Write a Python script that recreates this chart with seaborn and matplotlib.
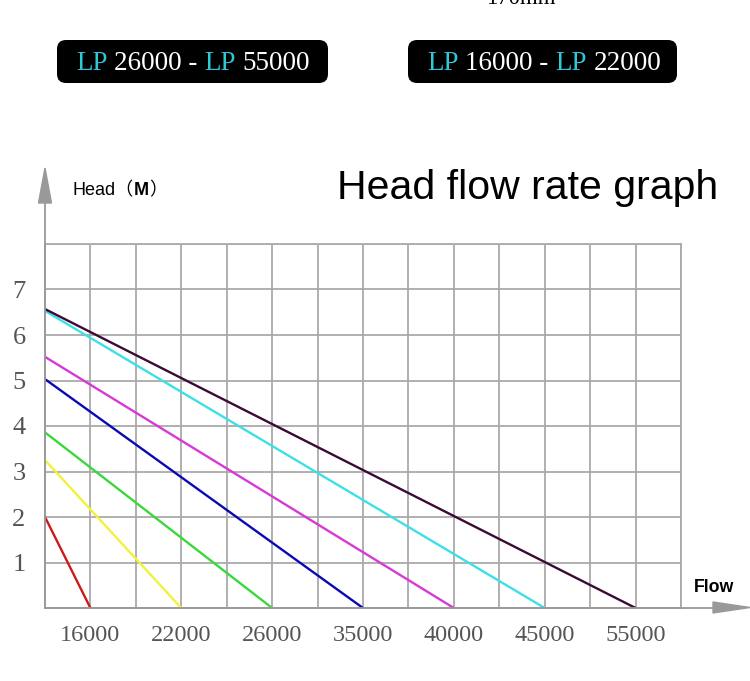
import matplotlib
matplotlib.use("Agg")
import matplotlib.pyplot as plt
import seaborn as sns
import pandas as pd
from matplotlib.patches import FancyBboxPatch, Polygon
from matplotlib.lines import Line2D
from matplotlib.text import Annotation

# ---------------- data ----------------
flow_labels = ['16000', '22000', '26000', '35000', '40000', '45000', '55000']
flow_cols = [1, 3, 5, 7, 9, 11, 13]          # grid column of each flow label
max_heads = [2.0, 3.25, 3.86, 5.03, 5.52, 6.53, 6.57]
line_colors = ['#d01a1a', '#f2f23a', '#3ad83a', '#0a0ab4', '#d838d8', '#3ce0e6', '#3b0a35']
head_ticks = [1, 2, 3, 4, 5, 6, 7]
n_cols = 14
n_rows = 8
header_left = ['LP', '26000 -', 'LP', '55000']
header_right = ['LP', '16000 -', 'LP', '22000']

rows = []
for lab, col, h in zip(flow_labels, flow_cols, max_heads):
    rows.append({'model': lab, 'col': 0, 'head': h})
    rows.append({'model': lab, 'col': col, 'head': 0.0})
df = pd.DataFrame(rows)

# ---------------- figure ----------------
sns.set_theme(style='white')
plt.rcParams['font.family'] = ['Liberation Sans', 'Noto Sans CJK SC', 'DejaVu Sans']

W, H = 750, 681
fig = plt.figure(figsize=(W / 100, H / 100), dpi=100)
fig.patch.set_facecolor('white')

def fx(px):
    return px / W

def fy(py):
    return 1 - py / H

ax = fig.add_axes([fx(45), fy(608), fx(681) - fx(45), fy(244) - fy(608)])
ax.set_facecolor('white')

sns.lineplot(data=df, x='col', y='head', hue='model', hue_order=flow_labels,
             palette=line_colors, legend=False, sort=False, estimator=None,
             linewidth=1.7, ax=ax, zorder=3)

ax.set_xlim(0, n_cols)
ax.set_ylim(0, n_rows)
ax.set_xticks(range(n_cols + 1))
xlabels = [''] * (n_cols + 1)
for lab, col in zip(flow_labels, flow_cols):
    xlabels[col] = lab
ax.set_xticklabels(xlabels)
ax.set_yticks(range(n_rows + 1))
ylabels = [''] * (n_rows + 1)
for t in head_ticks:
    ylabels[t] = str(t)
ax.set_yticklabels(ylabels)
ax.set_xlabel('')
ax.set_ylabel('')
ax.grid(True, color='#aaaaaa', linewidth=1.3)
for s in ax.spines.values():
    s.set_color('#aaaaaa')
    s.set_linewidth(1.3)
ax.tick_params(axis='both', length=0)
ax.tick_params(axis='x', pad=12)
ax.tick_params(axis='y', pad=14)
for lbl in ax.get_xticklabels():
    lbl.set_family('Liberation Serif')
    lbl.set_fontsize(17.5)
    lbl.set_color('#555555')
for lbl in ax.get_yticklabels():
    lbl.set_family('Liberation Serif')
    lbl.set_fontsize(19)
    lbl.set_color('#555555')

# axis arrows
arrow_c = '#999999'
fig.add_artist(Line2D([fx(45), fx(45)], [fy(608), fy(200)], color=arrow_c, lw=1.3))
fig.add_artist(Polygon([[fx(45), fy(168)], [fx(38.5), fy(203)], [fx(51.5), fy(203)]],
                       closed=True, color=arrow_c, transform=fig.transFigure))
fig.add_artist(Line2D([fx(45), fx(715)], [fy(608), fy(608)], color=arrow_c, lw=1.3))
fig.add_artist(Polygon([[fx(750), fy(607.5)], [fx(713), fy(602)], [fx(713), fy(613)]],
                       closed=True, color=arrow_c, transform=fig.transFigure))

def chain(prev, text, dx_pt=0.0, **kw):
    a = Annotation(text, xy=(1, 0), xycoords=prev, xytext=(dx_pt, 0),
                   textcoords='offset points', va='bottom', ha='left',
                   annotation_clip=False, **kw)
    a.set_zorder(5)
    fig.add_artist(a)
    return a

# labels
t_head = fig.text(fx(73), fy(195), 'Head（', fontsize=13, color='black',
                  va='baseline', ha='left')
t_m = chain(t_head, 'M', fontsize=13, fontweight='bold', color='black')
chain(t_m, '）', fontsize=13, color='black')
fig.text(fx(694), fy(592), 'Flow', fontsize=12.8, fontweight='bold', color='black',
         va='baseline', ha='left')
fig.text(fx(337), fy(199), 'Head flow rate graph', fontsize=29.5, color='black',
         va='baseline', ha='left')

# partially visible top text
fig.text(fx(521), fy(4), '170mm', fontsize=16.5, family='Liberation Serif',
         color='black', va='baseline', ha='center')

# header boxes
def header(x0, x1, y0, y1, text_x, parts):
    box = FancyBboxPatch((fx(x0), fy(y1)), fx(x1) - fx(x0), fy(y0) - fy(y1),
                         boxstyle='round,pad=0,rounding_size=0.012',
                         transform=fig.transFigure, facecolor='black',
                         edgecolor='none', mutation_aspect=W / H, zorder=1)
    fig.add_artist(box)
    cols = ['#2ec8d8', 'white', '#2ec8d8', 'white']
    prev = fig.text(fx(text_x), fy(70), parts[0], fontsize=19.5,
                    family='Liberation Serif', color=cols[0], va='baseline', ha='left',
                    zorder=5)
    for p, c in zip(parts[1:], cols[1:]):
        prev = chain(prev, p, 4.9, fontsize=19.5, family='Liberation Serif', color=c)

header(57, 328, 40, 83, 76, header_left)
header(408, 677, 40, 83, 427, header_right)

fig.savefig('out.png', dpi=100, facecolor='white')
